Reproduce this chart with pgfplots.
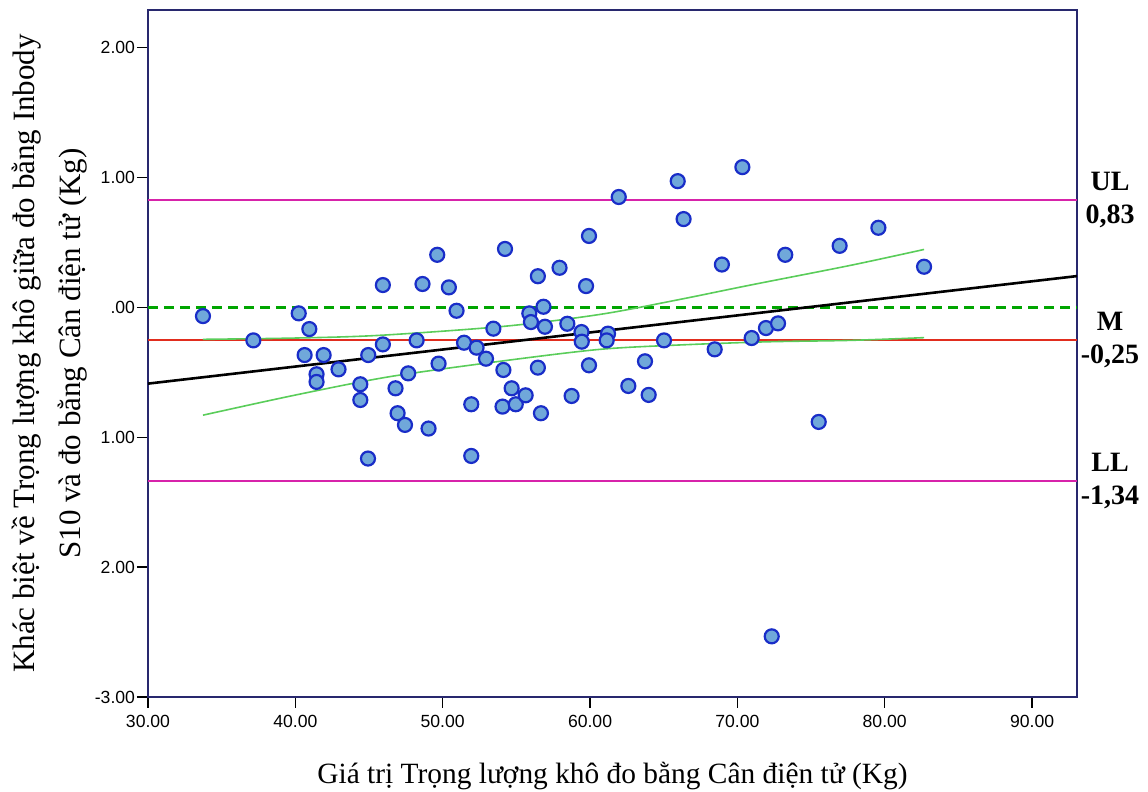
\documentclass[border=0pt]{standalone}
\usepackage{fontspec}
\setmainfont{Liberation Serif}
\newfontfamily\ticksf{Liberation Sans}
\usepackage{pgfplots}
\pgfplotsset{compat=1.18}

\definecolor{boxnavy}{RGB}{40,40,110}
\definecolor{limmag}{RGB}{215,35,170}
\definecolor{meanred}{RGB}{225,45,30}
\definecolor{zerogreen}{RGB}{0,165,0}
\definecolor{bandgreen}{RGB}{90,205,90}
\definecolor{ptfill}{RGB}{112,168,218}
\definecolor{ptedge}{RGB}{25,45,200}

\begin{document}
\begin{tikzpicture}
\begin{axis}[
  name=ax,
  scale only axis,
  width=464.5pt, height=343.5pt,
  xmin=30, xmax=93.05,
  ymin=-3, ymax=2.29,
  axis line style={boxnavy, line width=0.9pt},
  tick align=outside,
  major tick length=5.5pt,
  tick style={black, line width=0.7pt},
  xtick={30,40,50,60,70,80,90},
  xticklabels={30.00,40.00,50.00,60.00,70.00,80.00,90.00},
  ytick={-3,-2,-1,0,1,2},
  yticklabels={-3.00,2.00,1.00,.00,1.00,2.00},
  xtick pos=bottom, ytick pos=left,
  ticklabel style={font=\ticksf\fontsize{8.8}{10}\selectfont, inner sep=0.8pt},
  xticklabel style={yshift=-2.5pt},
  clip=false,
]
% limits of agreement and mean difference
\addplot[limmag, line width=1pt] coordinates {(30,0.83) (93.05,0.83)};
\addplot[limmag, line width=1pt] coordinates {(30,-1.34) (93.05,-1.34)};
\addplot[meanred, line width=1pt] coordinates {(30,-0.25) (93.05,-0.25)};
\addplot[zerogreen, line width=1.6pt, dash pattern=on 5pt off 3pt] coordinates {(30,0) (93.05,0)};
% regression line
\addplot[black, line width=1.3pt] coordinates {(30,-0.587) (93.05,0.241)};
% confidence band of the regression
\addplot[bandgreen, line width=0.8pt, smooth] coordinates {
  (33.73,-0.246) (40,-0.236) (45.75,-0.215) (54.23,-0.145) (60.68,-0.054)
  (65.95,0.058) (70.8,0.17) (77.65,0.323) (82.67,0.446)};
\addplot[bandgreen, line width=0.8pt, smooth] coordinates {
  (33.73,-0.83) (40,-0.675) (46.43,-0.533) (54.23,-0.41) (60.68,-0.323)
  (65.95,-0.29) (72,-0.265) (77.65,-0.254) (82.67,-0.233)};
% observations
\addplot[only marks, mark=*, mark size=3.5pt,
  mark options={fill=ptfill, draw=ptedge, line width=1.1pt}] coordinates {
(33.73,-0.067) (37.15,-0.254) (40.23,-0.046) (40.95,-0.167) (40.63,-0.367)
(41.92,-0.367) (41.44,-0.515) (41.44,-0.574) (42.93,-0.477) (44.95,-0.367)
(44.41,-0.592) (44.41,-0.713) (44.93,-1.164) (45.94,0.172) (45.94,-0.285)
(47.66,-0.508) (46.80,-0.623) (46.94,-0.815) (47.44,-0.905) (48.63,0.18)
(48.23,-0.254) (49.04,-0.933) (49.63,0.405) (49.72,-0.433) (50.42,0.154)
(50.94,-0.026) (51.45,-0.272) (51.94,-0.746) (51.94,-1.144) (52.30,-0.31)
(52.94,-0.395) (53.44,-0.164) (54.23,0.45) (54.12,-0.482) (54.06,-0.764)
(54.68,-0.623) (54.96,-0.746) (55.63,-0.677) (55.88,-0.046) (55.99,-0.113)
(56.46,0.24) (56.84,0.005) (56.94,-0.149) (56.46,-0.464) (56.67,-0.815)
(57.93,0.305) (58.46,-0.126) (58.75,-0.682) (59.42,-0.19) (59.44,-0.264)
(59.73,0.164) (59.93,0.55) (59.93,-0.446) (61.22,-0.202) (61.13,-0.254)
(61.95,0.85) (62.6,-0.605) (63.73,-0.415) (63.98,-0.674) (65.02,-0.254)
(65.95,0.972) (66.35,0.68) (68.46,-0.323) (68.95,0.33) (70.34,1.08)
(70.97,-0.236) (71.94,-0.159) (72.76,-0.123) (72.33,-2.533) (73.25,0.405)
(75.52,-0.882) (76.94,0.474) (79.57,0.613) (82.67,0.313)};
% labels of the limit lines
\node[align=center, inner sep=0pt, font=\bfseries\fontsize{14}{16.5}\selectfont]
  at (axis cs:95.29,0.83) {UL\\0,83};
\node[align=center, inner sep=0pt, font=\bfseries\fontsize{14}{16.5}\selectfont]
  at (axis cs:95.29,-0.25) {M\\-0,25};
\node[align=center, inner sep=0pt, font=\bfseries\fontsize{14}{16.5}\selectfont]
  at (axis cs:95.29,-1.34) {LL\\-1,34};
\end{axis}
% axis titles
\node[rotate=90, align=center, inner sep=0pt, font=\fontsize{15.5}{23}\selectfont]
  at ([xshift=-49pt]ax.west) {Khác biệt về Trọng lượng khô giữa đo bằng Inbody\\S10 và đo bằng Cân điện tử (Kg)};
\node[inner sep=0pt, font=\fontsize{14.7}{17}\selectfont]
  at ([yshift=-39.5pt]ax.south) {Giá trị Trọng lượng khô đo bằng Cân điện tử (Kg)};
\pgfresetboundingbox
\path ([shift={(-74pt,-47.5pt)}]ax.south west) rectangle ([shift={(35.5pt,5pt)}]ax.north east);
\end{tikzpicture}
\end{document}
